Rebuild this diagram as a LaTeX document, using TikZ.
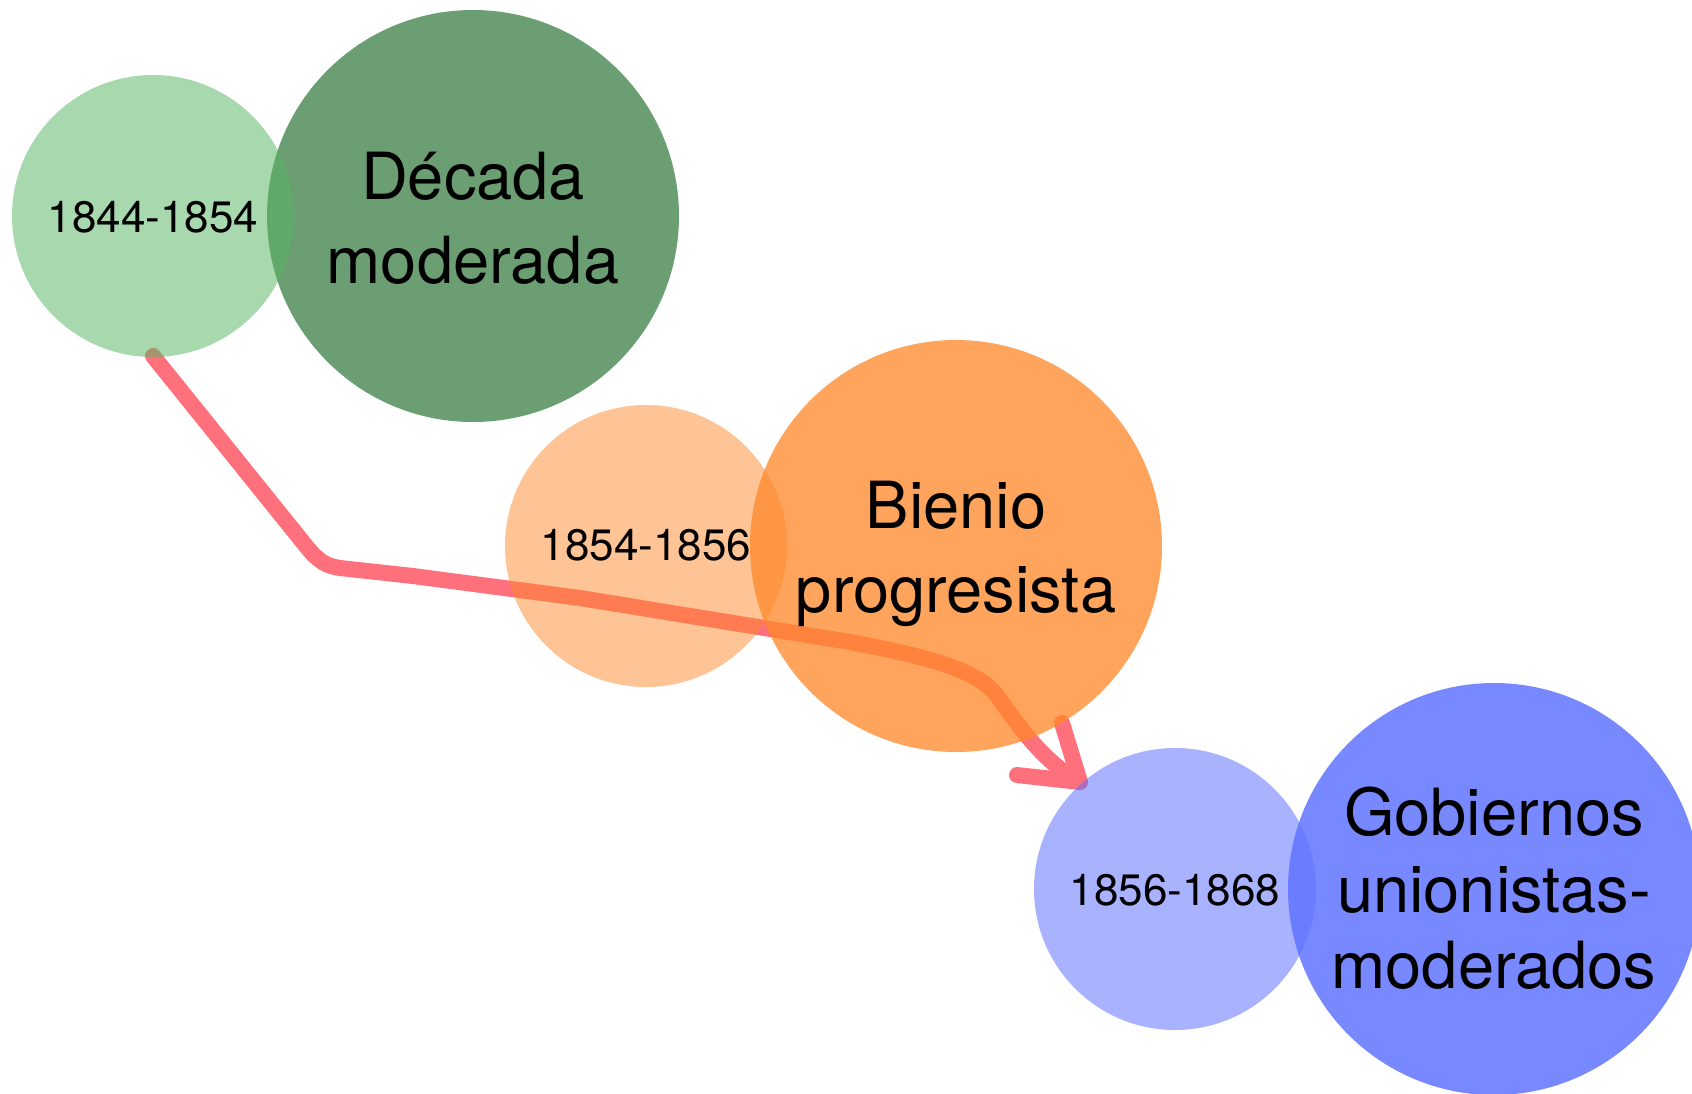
\documentclass[tikz,border=0pt]{standalone}
\usepackage{fontspec}
\setmainfont{TeX Gyre Heros}
\definecolor{gbig}{RGB}{107,158,114}
\definecolor{gsmall}{RGB}{88,180,99}
\definecolor{obase}{RGB}{255,137,43}
\definecolor{bbase}{RGB}{94,113,255}
\definecolor{arrowpink}{RGB}{255,112,125}
\tikzset{
  disc/.style={circle, inner sep=0pt, minimum size=#1},
  bigtxt/.style={anchor=base, inner sep=0pt, font=\fontsize{65}{78}\selectfont},
  datetxt/.style={anchor=base, inner sep=0pt, font=\fontsize{44}{52}\selectfont},
  chalk/.style={draw=arrowpink, line width=16pt, line cap=round, line join=round}
}
\begin{document}
\begin{tikzpicture}[x=1pt,y=-1pt]
\useasboundingbox (0,0) rectangle (1692,1093);
\clip (0,0) rectangle (1692,1093);
% connector (drawn beneath the translucent discs)
\coordinate (s) at (153,356);
\coordinate (c1) at (306,546);
\coordinate (c2) at (340,568);
\coordinate (c3) at (580,598);
\coordinate (c4) at (850,642);
\coordinate (c5) at (995,693);
\coordinate (tip) at (1080,782);
\coordinate (hl) at (1017,775);
\coordinate (hu) at (1062,723);
\draw[chalk] (s) -- (c1) .. controls (318,561) and (326,566) .. (c2)
  -- (413,576) -- (c3) -- (c4) .. controls (930,657) and (975,670) .. (c5)
  .. controls (1015,720) and (1040,760) .. (tip);
\draw[chalk] (hl) -- (tip) -- (hu);
% green pair
\node[disc=412pt, fill=gbig] (gB) at (473,216) {};
\node[disc=282pt, fill=gsmall, fill opacity=0.52] (gS) at (153,216) {};
% orange pair
\node[disc=282pt, fill=obase, fill opacity=0.5] (oS) at (646,546) {};
\node[disc=412pt, fill=obase, fill opacity=0.77] (oB) at (956,546) {};
% blue pair
\node[disc=282pt, fill=bbase, fill opacity=0.54] (bS) at (1175,889) {};
\node[disc=412pt, fill=bbase, fill opacity=0.84] (bB) at (1494,889) {};
% texts
\node[datetxt] (t1) at (153,232) {1844-1854};
\node[bigtxt] (t2a) at (473,199) {Década};
\node[bigtxt] (t2b) at (473,283) {moderada};
\node[datetxt] (t3) at (646,560) {1854-1856};
\node[bigtxt] (t4a) at (956,528) {Bienio};
\node[bigtxt] (t4b) at (956,612) {progresista};
\node[datetxt] (t5) at (1175,905) {1856-1868};
\node[bigtxt] (t6a) at (1494,835) {Gobiernos};
\node[bigtxt] (t6b) at (1494,912) {unionistas-};
\node[bigtxt] (t6c) at (1494,988) {moderados};
\end{tikzpicture}
\end{document}
